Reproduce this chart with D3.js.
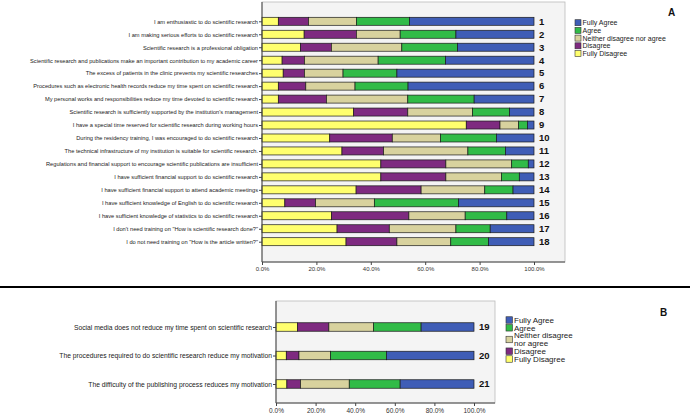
<!DOCTYPE html>
<html><head><meta charset="utf-8">
<script src="https://cdn.jsdelivr.net/npm/d3@7"></script>
<style>body{margin:0;background:#fff}svg{display:block}text{font-family:"Liberation Sans",Arial,sans-serif}</style>
</head><body>
<svg id="c" width="700" height="416"></svg>
<script>
const seriesNames = ["Fully Disagree","Disagree","Neither disagree nor agree","Agree","Fully Agree"];
const seriesColors = ["#ffff6e","#7e2a80","#d8d29e","#31bb47","#3f5db6"];
const legendOrder = ["Fully Agree","Agree","Neither disagree nor agree","Disagree","Fully Disagree"];
const tickValues = [0,20,40,60,80,100];

const questionsA = [
 "I am enthusiastic to do scientific research",
 "I am making serious efforts to do scientific research",
 "Scientific research is a professional obligation",
 "Scientific research and publications make an important contribution to my academic career",
 "The excess of patients in the clinic prevents my scientific researches",
 "Procedures such as electronic health records reduce my time spent on scientific research",
 "My personal works and responsibilities reduce my time devoted to scientific research",
 "Scientific research is sufficiently supported by the institution's management",
 "I have a special time reserved for scientific research during working hours",
 "During the residency training, I was encouraged to do scientific research",
 "The technical infrastructure of my institution is suitable for scientific research.",
 "Regulations and financial support to encourage scientific publications are insufficient",
 "I have sufficient financial support to do scientific research",
 "I have sufficient financial support to attend academic meetings",
 "I have sufficient knowledge of English to do scientific research",
 "I have sufficient knowledge of statistics to do scientific research",
 "I don't need training on \"How is scientific research done?\"",
 "I do not need training on \"How is the article written?\""
];
const numbersA = [1,2,3,4,5,6,7,8,9,10,11,12,13,14,15,16,17,18];
const fullyDisagreeA = [6.0,15.5,14.2,7.4,7.8,6.0,6.0,33.7,75.1,24.9,29.4,43.7,43.7,34.6,8.4,25.6,27.6,30.9];
const disagreeA      = [11.1,19.2,11.3,8.2,7.8,10.1,17.7,19.9,12.4,23.0,15.3,23.9,23.9,23.9,11.3,28.4,19.2,18.7];
const neitherA       = [17.6,16.1,25.9,27.1,14.2,18.1,29.9,23.8,6.8,17.7,31.0,24.2,20.4,23.4,21.6,20.7,24.5,19.8];
const agreeA         = [19.5,20.5,20.5,24.8,19.8,19.5,24.4,13.6,3.3,20.6,13.8,6.1,6.6,10.4,31.0,15.3,12.6,13.9];
const fullyAgreeA    = [45.8,28.7,28.1,32.5,50.4,46.3,22.0,9.0,2.4,13.8,10.5,2.1,5.4,7.7,27.7,10.0,16.1,16.7];

const questionsB = [
 "Social media does not reduce my time spent on scientific research",
 "The procedures required to do scientific research reduce my motivation",
 "The difficulty of the publishing process reduces my motivation"
];
const numbersB = [19,20,21];
const fullyDisagreeB = [10.8,5.2,5.5];
const disagreeB      = [15.9,6.4,6.9];
const neitherB       = [22.5,16.0,24.6];
const agreeB         = [24.1,28.2,25.7];
const fullyAgreeB    = [26.7,44.2,37.3];

const svg = d3.select("#c");
const color = d3.scaleOrdinal().domain(seriesNames).range(seriesColors);

function panel(cfg){
  const rows = cfg.questions.map((q,i)=>{
    const r = {q, n:cfg.numbers[i]};
    cfg.series.forEach((s,k)=> r[seriesNames[k]] = s[i]);
    return r;
  });
  const stack = d3.stack().keys(seriesNames)(rows);
  const x = d3.scaleLinear().domain([0,100]).range([cfg.x0,cfg.x1]);
  const y = d3.scalePoint().domain(rows.map(d=>d.n)).range([cfg.yTop,cfg.yBot]);
  const g = svg.append("g");
  g.append("rect").attr("x",cfg.x0).attr("y",cfg.boxTop).attr("width",cfg.boxRight-cfg.x0)
    .attr("height",cfg.axisY-cfg.boxTop).attr("fill","#f4f4f4").attr("stroke","#bbb").attr("stroke-width",0.8);
  g.selectAll("g.s").data(stack).join("g").attr("fill",d=>color(d.key))
    .selectAll("rect").data(d=>d).join("rect")
    .attr("x",d=>x(d[0])).attr("width",d=>x(d[1])-x(d[0]))
    .attr("y",d=>y(d.data.n)-cfg.bh/2).attr("height",cfg.bh)
    .attr("stroke","#1a1a1a").attr("stroke-width",0.7);
  g.selectAll("text.num").data(rows).join("text")
    .attr("x",cfg.x1+5).attr("y",d=>y(d.n)).attr("dy","0.35em")
    .attr("font-size",cfg.numSize).attr("font-weight","bold").attr("fill","#111").text(d=>d.n);
  const ya = g.append("g").attr("transform",`translate(${cfg.x0},0)`)
    .call(d3.axisLeft(y).tickSize(3).tickPadding(1).tickFormat((d,i)=>cfg.questions[i]));
  ya.select(".domain").attr("d",`M0,${cfg.boxTop}V${cfg.axisY}`).attr("stroke","#444");
  ya.selectAll(".tick line").attr("stroke","#444");
  ya.selectAll(".tick text").attr("font-size",cfg.labSize).attr("fill","#222")
    .attr("font-family",'"Liberation Sans",Arial,sans-serif');
  const xa = g.append("g").attr("transform",`translate(0,${cfg.axisY})`)
    .call(d3.axisBottom(x).tickValues(tickValues).tickSize(3).tickPadding(2).tickFormat(d=>d3.format(".1f")(d)+"%"));
  xa.select(".domain").attr("d",`M${cfg.x0},0H${cfg.boxRight}`).attr("stroke","#444");
  xa.selectAll(".tick line").attr("stroke","#444");
  xa.selectAll(".tick text").attr("font-size",cfg.tickSize).attr("fill","#333")
    .attr("font-family",'"Liberation Sans",Arial,sans-serif');
  const lg = g.append("g").attr("transform",`translate(${cfg.legX},${cfg.legY})`);
  let yy = 0;
  legendOrder.forEach(name=>{
    const lines = cfg.legWrap && name.startsWith("Neither") ? ["Neither disagree","nor agree"] : [name];
    const h = lines.length*cfg.legStep;
    const cy = yy + (lines.length>1 ? cfg.legStep*0.5 : 0);
    lg.append("rect").attr("x",0).attr("y",cy-cfg.sq/2).attr("width",cfg.sq).attr("height",cfg.sq)
      .attr("fill",color(name)).attr("stroke","#333").attr("stroke-width",0.6);
    lines.forEach((l,j)=> lg.append("text").attr("x",cfg.sq+1.5).attr("y",yy+j*cfg.legStep).attr("dy","0.35em")
      .attr("font-size",cfg.legSize).attr("fill","#222").text(l));
    yy += h;
  });
  svg.append("text").attr("x",cfg.titleX).attr("y",cfg.titleY).attr("font-size",10).attr("font-weight","bold")
    .attr("fill","#111").text(cfg.title);
}

panel({questions:questionsA, numbers:numbersA,
  series:[fullyDisagreeA,disagreeA,neitherA,agreeA,fullyAgreeA],
  x0:262, x1:534, boxRight:565, boxTop:2, axisY:262, yTop:21.3, yBot:241.7, bh:8,
  numSize:9.5, labSize:5.7, tickSize:6, legX:575, legY:22.7, legStep:7.7, sq:6, legSize:7, legWrap:false,
  title:"A", titleX:668, titleY:16});

panel({questions:questionsB, numbers:numbersB,
  series:[fullyDisagreeB,disagreeB,neitherB,agreeB,fullyAgreeB],
  x0:276, x1:474, boxRight:495, boxTop:301, axisY:403, yTop:327, yBot:384, bh:8.5,
  numSize:9.5, labSize:6.75, tickSize:6.5, legX:506, legY:320, legStep:7.8, sq:6.5, legSize:8, legWrap:true,
  title:"B", titleX:660, titleY:316});

svg.append("line").attr("x1",0).attr("x2",690).attr("y1",287).attr("y2",287).attr("stroke","#000").attr("stroke-width",2);
</script>
</body></html>
